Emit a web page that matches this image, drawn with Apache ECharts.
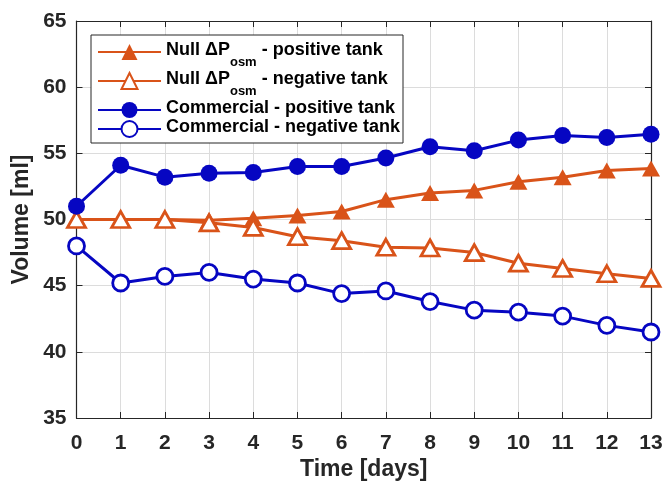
<!DOCTYPE html>
<html>
<head>
<meta charset="utf-8">
<title>Volume over time</title>
<script src="https://cdn.jsdelivr.net/npm/echarts@6/dist/echarts.min.js"></script>
<style>
  html, body { margin: 0; padding: 0; background: #fff; }
  #chart { width: 666px; height: 481px; }
</style>
</head>
<body>
<div id="chart"></div>
<script>
// Measured volumes (ml) for each day of the test
const days = [0, 1, 2, 3, 4, 5, 6, 7, 8, 9, 10, 11, 12, 13];
const nullPositive = [50.0, 50.0, 50.0, 49.95, 50.1, 50.3, 50.6, 51.5, 52.0, 52.2, 52.85, 53.2, 53.7, 53.85];
const nullNegative = [50.0, 50.0, 50.0, 49.75, 49.4, 48.7, 48.4, 47.9, 47.85, 47.5, 46.7, 46.3, 45.9, 45.55];
const commercialPositive = [51.0, 54.1, 53.2, 53.5, 53.55, 54.0, 54.0, 54.65, 55.5, 55.2, 56.0, 56.35, 56.2, 56.45];
const commercialNegative = [48.0, 45.2, 45.7, 46.0, 45.5, 45.2, 44.4, 44.6, 43.8, 43.15, 43.0, 42.7, 42.0, 41.5];

const seriesNames = [
  'Null ΔPosm - positive tank',
  'Null ΔPosm - negative tank',
  'Commercial - positive tank',
  'Commercial - negative tank'
];
const yTicks = { min: 35, max: 65, step: 5 };
const xTicks = { min: 0, max: 13, step: 1 };

const ORANGE = '#D95319';
const BLUE = '#0606C2';
const AXIS = '#262626';
const FONT = 'Liberation Sans';

function pairs(values) {
  return days.map((d, i) => [d, values[i]]);
}

function lineSeries(name, values, color, symbol, hollow, size) {
  return {
    name: name,
    type: 'line',
    xAxisIndex: 0,
    yAxisIndex: 0,
    data: pairs(values),
    symbol: symbol,
    symbolSize: size,
    showAllSymbol: true,
    clip: false,
    lineStyle: { color: color, width: 3 },
    itemStyle: hollow
      ? { color: '#fff', borderColor: color, borderWidth: 2.8 }
      : { color: color, borderColor: color, borderWidth: 0 },
    emphasis: { disabled: true },
    animation: false
  };
}

// Legend labels: "Null ΔP" with "osm" as a subscript
const legendRich = {
  t: { fontFamily: FONT, fontWeight: 'bold', fontSize: 18, color: '#000', lineHeight: 22, verticalAlign: 'top' },
  s: { fontFamily: FONT, fontWeight: 'bold', fontSize: 13, color: '#000', lineHeight: 13, padding: [15, 0, 0, 0], verticalAlign: 'top' }
};
function legendLabel(name) {
  if (name.indexOf('ΔPosm') >= 0) {
    const rest = name.split('ΔPosm')[1];
    return '{t|Null ΔP}{s|osm}{t|' + rest + '}';
  }
  return '{t|' + name + '}';
}
function legendRow(name, top) {
  return {
    data: [name],
    left: 97,
    top: top,
    orient: 'vertical',
    padding: 0,
    itemWidth: 63,
    itemHeight: 20,
    itemGap: 0,
    selectedMode: false,
    z: 6,
    formatter: legendLabel,
    textStyle: { fontFamily: FONT, fontWeight: 'bold', fontSize: 18, color: '#000', rich: legendRich }
  };
}

const chart = echarts.init(document.getElementById('chart'), null, { renderer: 'canvas' });

const tickLabel = { fontFamily: FONT, fontWeight: 'bold', fontSize: 21, color: AXIS };
const gridLine = { show: true, lineStyle: { color: '#dcdcdc', width: 1 } };

chart.setOption({
  animation: false,
  backgroundColor: '#fff',
  grid: { left: 76.5, right: 15, top: 21, bottom: 63, containLabel: false, outerBoundsMode: 'none' },
  xAxis: [
    {
      type: 'value', position: 'bottom',
      min: xTicks.min, max: xTicks.max, interval: xTicks.step,
      name: 'Time [days]', nameLocation: 'middle', nameGap: 40, nameMoveOverlap: false,
      nameTextStyle: { fontFamily: FONT, fontWeight: 'bold', fontSize: 23, color: AXIS },
      axisLine: { show: true, onZero: false, lineStyle: { color: AXIS, width: 1.2 } },
      axisTick: { show: true, inside: true, length: 6, lineStyle: { color: AXIS, width: 1 } },
      axisLabel: Object.assign({ margin: 15 }, tickLabel),
      splitLine: gridLine
    },
    {
      type: 'value', position: 'top',
      min: xTicks.min, max: xTicks.max, interval: xTicks.step,
      axisLine: { show: true, onZero: false, lineStyle: { color: AXIS, width: 1.2 } },
      axisTick: { show: true, inside: true, length: 6, lineStyle: { color: AXIS, width: 1 } },
      axisLabel: { show: false },
      splitLine: { show: false }
    }
  ],
  yAxis: [
    {
      type: 'value', position: 'left',
      min: yTicks.min, max: yTicks.max, interval: yTicks.step,
      name: 'Volume [ml]', nameLocation: 'middle', nameGap: 43, nameMoveOverlap: false,
      nameTextStyle: { fontFamily: FONT, fontWeight: 'bold', fontSize: 23, color: AXIS },
      axisLine: { show: true, onZero: false, lineStyle: { color: AXIS, width: 1.2 } },
      axisTick: { show: true, inside: true, length: 6, lineStyle: { color: AXIS, width: 1 } },
      axisLabel: Object.assign({ margin: 10 }, tickLabel),
      splitLine: gridLine
    },
    {
      type: 'value', position: 'right',
      min: yTicks.min, max: yTicks.max, interval: yTicks.step,
      axisLine: { show: true, onZero: false, lineStyle: { color: AXIS, width: 1.2 } },
      axisTick: { show: true, inside: true, length: 6, lineStyle: { color: AXIS, width: 1 } },
      axisLabel: { show: false },
      splitLine: { show: false }
    }
  ],
  legend: [
    legendRow(seriesNames[0], 41),
    legendRow(seriesNames[1], 70),
    legendRow(seriesNames[2], 99),
    legendRow(seriesNames[3], 118)
  ],
  graphic: {
    elements: [
      {
        type: 'rect', z: 5, silent: true,
        shape: { x: 91, y: 35, width: 312, height: 108 },
        style: { fill: '#fff', stroke: AXIS, lineWidth: 1 }
      }
    ]
  },
  series: [
    lineSeries(seriesNames[0], nullPositive, ORANGE, 'triangle', false, [18, 16]),
    lineSeries(seriesNames[1], nullNegative, ORANGE, 'triangle', true, [18, 16]),
    lineSeries(seriesNames[2], commercialPositive, BLUE, 'circle', false, 17),
    lineSeries(seriesNames[3], commercialNegative, BLUE, 'circle', true, 16)
  ]
});
</script>
</body>
</html>
